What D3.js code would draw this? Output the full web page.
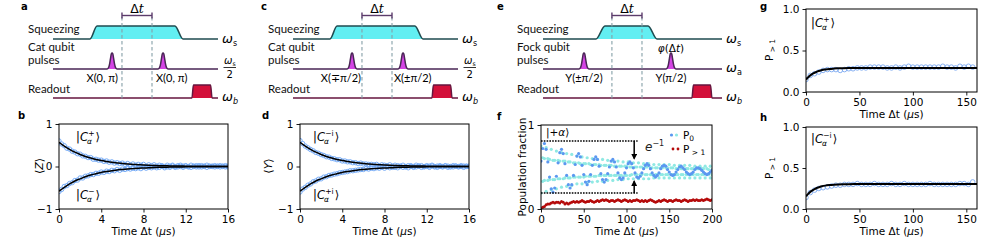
<!DOCTYPE html>
<html>
<head>
<meta charset="utf-8">
<script src="https://cdn.jsdelivr.net/npm/d3@7"></script>
<style>
  body { margin: 0; background: #fff; }
  svg text { font-family: "DejaVu Sans", sans-serif; }
</style>
</head>
<body>
<svg id="fig" width="997" height="245"></svg>
<script>
// ---- data ----
// panel b / d : parity decay, sampled every 0.25 us
const tZ = d3.range(0, 16.001, 0.25);
const zPlus = [.60,.53,.49,.43,.41,.36,.34,.30,.29,.25,.24,.21,
  .21,.17,.17,.15,.15,.12,.13,.10,.11,.08,.09,.07,
  .08,.05,.07,.04,.06,.03,.05,.03,.05,.01,.04,.02,
  .04,.01,.03,.02,.00,.03,.01,.03,.00,.02,.03,.01,
  .02,.00,.03,.01,.02,-.01,.02,.01,.03,.00,.01,.02,
  .00,.02,.01,-.01,.01];
const zMinus = [-.59,-.54,-.47,-.45,-.40,-.38,-.33,-.32,-.27,-.27,-.23,-.22,
  -.19,-.19,-.16,-.16,-.13,-.14,-.11,-.12,-.09,-.10,-.07,-.09,
  -.06,-.07,-.05,-.06,-.04,-.05,-.03,-.05,-.02,-.04,-.02,-.03,
  -.01,-.03,-.02,.00,-.03,-.01,-.02,.01,-.02,-.01,.00,-.02,
  .01,-.01,-.02,.00,-.01,.02,-.01,.00,-.02,.01,.00,-.01,
  .01,-.01,.00,.02,-.01];
const yMinusI = [.61,.54,.48,.44,.40,.37,.33,.31,.28,.26,.23,.22,
  .19,.18,.16,.16,.13,.13,.11,.11,.09,.09,.07,.08,
  .06,.06,.05,.05,.04,.05,.02,.04,.03,.02,.04,.01,
  .03,.02,.01,.03,.00,.02,.02,.00,.03,.01,.02,.00,
  .02,.01,.03,.00,.01,.02,.00,.02,.01,-.01,.02,.01,
  .00,.02,.01,.00,.01];
const yPlusI = [-.60,-.53,-.49,-.44,-.41,-.36,-.34,-.30,-.29,-.25,-.24,-.21,
  -.20,-.18,-.17,-.15,-.14,-.13,-.12,-.10,-.10,-.09,-.08,-.07,
  -.07,-.05,-.06,-.04,-.05,-.03,-.04,-.02,-.04,-.01,-.03,-.02,
  -.02,-.03,.00,-.02,-.01,-.03,.00,-.02,-.01,.01,-.02,-.01,
  .00,-.02,.01,-.01,-.02,.00,-.01,.01,-.02,.00,-.01,.01,
  -.01,.00,-.02,.01,.00];
// fitted curves, every 0.5 us
const tFit = d3.range(0, 16.001, 0.5);
const fitUp = [.570,.480,.402,.337,.283,.237,.199,.167,.140,.118,.098,.083,.069,.058,.049,.041,
  .034,.029,.024,.020,.017,.014,.012,.010,.008,.007,.006,.005,.004,.003,.003,.002,.002];
const fitDown = [-.580,-.490,-.410,-.340,-.290,-.240,-.200,-.170,-.140,-.120,-.100,-.080,-.070,-.060,-.050,-.040,
  -.035,-.030,-.025,-.020,-.017,-.014,-.012,-.010,-.008,-.007,-.006,-.005,-.004,-.003,-.003,-.002,-.002];

// panel f : populations, every 2 us
const tPop = d3.range(0, 200.001, 2);
const p0Light = [.75,.61,.34,.21,.34,.59,.71,.58,.35,.24,
  .36,.57,.67,.57,.37,.27,.37,.56,.65,.55,
  .38,.30,.38,.54,.62,.54,.39,.31,.39,.53,
  .60,.53,.39,.33,.40,.52,.59,.52,.40,.34,
  .40,.52,.57,.51,.40,.35,.40,.51,.56,.51,
  .40,.36,.40,.50,.55,.50,.41,.36,.41,.50,
  .54,.50,.41,.36,.41,.49,.53,.49,.41,.37,
  .41,.49,.53,.49,.41,.37,.41,.49,.52,.48,
  .41,.37,.41,.48,.52,.48,.41,.37,.41,.48,
  .51,.48,.41,.37,.41,.48,.51,.48,.41,.37,.41];
const p0LightB = [.19,.33,.60,.73,.60,.35,.23,.35,.58,.69,
  .58,.36,.26,.36,.57,.66,.56,.37,.28,.38,
  .55,.63,.55,.38,.30,.38,.54,.61,.54,.39,
  .32,.39,.53,.59,.53,.40,.33,.40,.52,.58,
  .52,.40,.34,.40,.51,.57,.51,.40,.35,.40,
  .51,.56,.50,.41,.36,.41,.50,.55,.50,.41,
  .36,.41,.50,.54,.49,.41,.37,.41,.49,.53,
  .49,.41,.37,.41,.49,.53,.49,.41,.37,.41,
  .48,.52,.48,.41,.37,.41,.48,.52,.48,.41,
  .37,.41,.48,.51,.48,.41,.37,.41,.47,.51,.47];
const p0Dark = [.57,.72,.78,.71,.56,.38,.24,.20,.25,.39,
  .55,.67,.71,.66,.54,.40,.29,.25,.29,.40,
  .53,.63,.66,.62,.52,.41,.32,.29,.33,.41,
  .52,.59,.62,.59,.51,.42,.35,.32,.35,.42,
  .50,.57,.59,.56,.50,.43,.37,.35,.37,.43,
  .49,.54,.56,.54,.49,.43,.38,.37,.39,.43,
  .48,.52,.54,.52,.48,.43,.40,.38,.40,.43,
  .48,.51,.52,.51,.47,.44,.41,.40,.41,.44,
  .47,.50,.51,.49,.47,.44,.42,.41,.42,.44,
  .47,.49,.49,.48,.46,.44,.42,.41,.42,.44,.46];
const pLeak = [.00,.02,.03,.05,.06,.06,.07,.08,.07,.08,
  .08,.07,.09,.08,.06,.07,.06,.07,.08,.09,
  .08,.09,.08,.09,.10,.09,.08,.09,.09,.10,
  .09,.08,.09,.10,.09,.10,.11,.10,.11,.10,
  .09,.10,.10,.09,.10,.11,.10,.09,.10,.11,
  .10,.09,.10,.09,.10,.10,.11,.10,.09,.10,
  .09,.10,.09,.10,.11,.10,.09,.08,.09,.10,
  .09,.10,.11,.10,.09,.10,.10,.09,.10,.11,
  .10,.10,.09,.10,.11,.10,.09,.10,.10,.11,
  .10,.11,.10,.10,.11,.10,.11,.12,.11,.10,.11];
const contrastLevels = [0.81, 0.19];

// panels g / h : leakage, every 4 us
const tLeak = d3.range(0, 157, 4);
const leakPlus = [.15,.20,.22,.24,.26,.27,.27,.27,.26,.27,
  .28,.28,.29,.29,.29,.30,.30,.30,.30,.29,
  .29,.30,.29,.30,.31,.30,.30,.30,.30,.30,
  .30,.30,.31,.30,.30,.29,.31,.30,.31,.30];
const leakMinusI = [.14,.20,.23,.25,.26,.27,.28,.29,.29,.30,
  .30,.30,.31,.30,.30,.30,.31,.30,.30,.30,
  .31,.30,.30,.31,.30,.30,.30,.30,.30,.31,
  .30,.30,.30,.30,.30,.30,.31,.31,.30,.33];
const tLeakFit = [0,2,4,6,8,10,12,15,18,22,26,30,35,40,50,60,80,100,120,140,160];
const leakFitPlus = [.150,.178,.200,.218,.232,.244,.253,.264,.271,.278,.282,.285,.287,.288,.289,.29,.29,.29,.29,.29,.29];
const leakFitMinusI = [.155,.185,.209,.228,.243,.256,.265,.277,.285,.292,.297,.300,.302,.303,.304,.305,.305,.305,.305,.305,.305];

// pulse sequences (schematic units 0..100 along each time line)
const squeezeA = [22.4, 26.7, 73.9, 78.8], pulsesA = [35.8, 66.7], readoutA = [84.2, 96.4], marksA = [41.8, 60];
const squeezeE = [29.6, 34.6, 58.7, 63.7], pulsesE = [22.9, 71.5], readoutE = [83.2, 94.4], marksE = [38.5, 55.3];
const pulseShapeOff = [-5, -3.5, -2.5, -1.5, -0.7, 0, 0.7, 1.5, 2.5, 3.5, 5];
const pulseShapeAmp = [0, 0.08, 0.3, 0.68, 0.95, 1, 0.95, 0.68, 0.3, 0.08, 0];

const svg = d3.select("#fig");
const SQ_Y = 39, SQ_TOP = 26, QB_Y = 69, QB_H = 16, RO_Y = 98, RO_TOP = 85;

function omega(g, x, y, sub, size, subItalic) {
  const t = g.append("text").attr("x", x).attr("y", y)
    .attr("font-family", "DejaVu Serif").attr("font-size", size);
  t.append("tspan").attr("font-style", "italic").text("ω");
  t.append("tspan").attr("font-size", size * 0.62).attr("dy", size * 0.22)
    .attr("font-style", subItalic ? "italic" : "normal").text(sub);
  return t;
}

function drawSeq(p) {
  const x = d3.scaleLinear().domain([0, 100]).range(p.range);
  const g = svg.append("g");
  const curve = d3.line().curve(d3.curveMonotoneX);

  g.append("text").attr("x", p.letterX).attr("y", 10).attr("font-weight", "bold").attr("font-size", 10).text(p.letter);

  const lab = g.append("g").attr("font-size", 11.5).attr("fill", "#111");
  lab.append("text").attr("x", p.textX).attr("y", 32.5).style("font-family", "Lato").text("Squeezing");
  lab.append("text").attr("x", p.textX).attr("y", 51).style("font-family", "Lato").text(p.qubitName);
  lab.append("text").attr("x", p.textX).attr("y", 64).style("font-family", "Lato").text("pulses");
  lab.append("text").attr("x", p.textX).attr("y", 93).style("font-family", "Lato").text("Readout");

  // squeezing drive
  const s = p.squeeze;
  g.append("path")
    .attr("d", curve([[x(0), SQ_Y], [x(s[0]), SQ_Y], [x(s[1]), SQ_TOP], [x(s[2]), SQ_TOP], [x(s[3]), SQ_Y], [x(100), SQ_Y]]))
    .attr("fill", "#62eef2").attr("stroke", "#1f4b50").attr("stroke-width", 1.6);

  // qubit pulses
  let pts = [[x(0), QB_Y]];
  p.pulses.forEach(c => pulseShapeOff.forEach((o, i) => pts.push([x(c) + o, QB_Y - QB_H * pulseShapeAmp[i]])));
  pts.push([x(100), QB_Y]);
  g.append("path").attr("d", curve(pts))
    .attr("fill", "#d444e4").attr("stroke", "#4a2656").attr("stroke-width", 1.5);

  // readout
  const r = p.readout;
  g.append("path")
    .attr("d", curve([[x(0), RO_Y], [x(r[0]), RO_Y], [x(r[0]) + 1.5, RO_TOP], [x(r[1]) - 1.5, RO_TOP], [x(r[1]), RO_Y], [x(100), RO_Y]]))
    .attr("fill", "#d3103a").attr("stroke", "#66163f").attr("stroke-width", 1.5);

  // delay markers
  g.selectAll("line.mark").data(p.marks).join("line").attr("class", "mark")
    .attr("x1", d => x(d)).attr("x2", d => x(d)).attr("y1", 17).attr("y2", 101)
    .attr("stroke", "#86a0a8").attr("stroke-width", 1.1).attr("stroke-dasharray", "3.5,2.5");
  const m0 = x(p.marks[0]), m1 = x(p.marks[1]);
  const br = g.append("g").attr("stroke", "#5b3b6b").attr("stroke-width", 1.4);
  br.append("line").attr("x1", m0).attr("x2", m1).attr("y1", 15.5).attr("y2", 15.5);
  br.append("line").attr("x1", m0).attr("x2", m0).attr("y1", 12.5).attr("y2", 18.5);
  br.append("line").attr("x1", m1).attr("x2", m1).attr("y1", 12.5).attr("y2", 18.5);
  const dt = g.append("text").attr("x", (m0 + m1) / 2).attr("y", 12.5).attr("text-anchor", "middle").attr("font-size", 12.5);
  dt.append("tspan").text("Δ");
  dt.append("tspan").attr("font-family", "DejaVu Serif").attr("font-style", "italic").text("t");

  // pulse labels
  p.pulseLabels.forEach((t, i) => {
    g.append("text").attr("x", x(p.pulseLabelPos[i])).attr("y", 81.5)
      .attr("text-anchor", p.pulseLabelAnchor[i]).style("font-family", "Lato").attr("font-size", 11).text(t);
  });

  // frequency labels
  const ox = x(100) + 4;
  omega(g, ox, 43, "s", 13, false);
  if (p.fraction) {
    omega(g, ox + 2, 64, "s", 10, false);
    g.append("line").attr("x1", ox + 1.5).attr("x2", ox + 14).attr("y1", 67.5).attr("y2", 67.5).attr("stroke", "#000").attr("stroke-width", 0.8);
    g.append("text").attr("x", ox + 7.8).attr("y", 77.5).attr("text-anchor", "middle").attr("font-family", "DejaVu Serif").attr("font-size", 10).text("2");
  } else {
    omega(g, ox, 72, "a", 13, false);
  }
  omega(g, ox, 101, "b", 13, true);
  return { g, x };
}

drawSeq({ range: [53, 218], letter: "a", letterX: 21, textX: 28, qubitName: "Cat qubit",
  squeeze: squeezeA, pulses: pulsesA, readout: readoutA, marks: marksA,
  pulseLabels: ["X(0, π)", "X(0, π)"], pulseLabelPos: [39.4, 62.4], pulseLabelAnchor: ["end", "start"], fraction: true });
drawSeq({ range: [293, 458], letter: "c", letterX: 261, textX: 268, qubitName: "Cat qubit",
  squeeze: squeezeA, pulses: pulsesA, readout: readoutA, marks: marksA,
  pulseLabels: ["X(∓π/2)", "X(±π/2)"], pulseLabelPos: [41.2, 61.2], pulseLabelAnchor: ["end", "start"], fraction: true });
const seqE = drawSeq({ range: [543, 722], letter: "e", letterX: 497, textX: 517, qubitName: "Fock qubit",
  squeeze: squeezeE, pulses: pulsesE, readout: readoutE, marks: marksE,
  pulseLabels: ["Y(±π/2)", "Y(π/2)"], pulseLabelPos: [22.9, 71.5], pulseLabelAnchor: ["middle", "middle"], fraction: false });
{
  const t = seqE.g.append("text").attr("x", seqE.x(pulsesE[1])).attr("y", 52).attr("text-anchor", "middle").attr("font-size", 10.5).attr("font-family", "DejaVu Serif");
  t.append("tspan").attr("font-style", "italic").text("φ");
  t.append("tspan").text("(Δ");
  t.append("tspan").attr("font-style", "italic").text("t");
  t.append("tspan").text(")");
}

// ---- data panels ----
let clipId = 0;
function panel(o) {
  const x = d3.scaleLinear().domain(o.xd).range([o.l, o.r]);
  const y = d3.scaleLinear().domain(o.yd).range([o.b, o.t]);
  const g = svg.append("g");
  const id = "clip" + (clipId++);
  svg.append("clipPath").attr("id", id).append("rect")
    .attr("x", o.l).attr("y", o.t).attr("width", o.r - o.l).attr("height", o.b - o.t);
  const ax = g.append("g").attr("transform", `translate(0,${o.b})`)
    .call(d3.axisBottom(x).tickValues(o.xt).tickSize(3.5).tickSizeOuter(0).tickFormat(d3.format("d")));
  const ay = g.append("g").attr("transform", `translate(${o.l},0)`)
    .call(d3.axisLeft(y).tickValues(o.yt).tickSize(3.5).tickSizeOuter(0).tickFormat(o.yf));
  [ax, ay].forEach(a => {
    a.select(".domain").remove();
    a.selectAll("text").attr("font-size", 10.5).attr("fill", "#000").style("font-family", "DejaVu Sans");
    a.selectAll("line").attr("stroke-width", 0.9);
  });
  const plot = g.append("g").attr("clip-path", `url(#${id})`);
  g.append("rect").attr("x", o.l).attr("y", o.t).attr("width", o.r - o.l).attr("height", o.b - o.t)
    .attr("fill", "none").attr("stroke", "#000").attr("stroke-width", 1);
  g.append("text").attr("x", o.letterX).attr("y", o.letterY).attr("font-weight", "bold").attr("font-size", 10).text(o.letter);
  const xl = g.append("text").attr("x", (o.l + o.r) / 2).attr("y", o.b + 26).attr("text-anchor", "middle").attr("font-size", 10.5);
  xl.append("tspan").text("Time Δt (");
  xl.append("tspan").attr("font-style", "italic").text("μ");
  xl.append("tspan").text("s)");
  return { x, y, g, plot };
}

function circles(p, xs, ys, r, color) {
  p.plot.append("g").selectAll("circle").data(ys).join("circle")
    .attr("cx", (d, i) => p.x(xs[i])).attr("cy", d => p.y(d)).attr("r", r)
    .attr("fill", "none").attr("stroke", color).attr("stroke-width", 0.9);
}
function dots(p, xs, ys, r, color) {
  p.plot.append("g").selectAll("circle").data(ys).join("circle")
    .attr("cx", (d, i) => p.x(xs[i])).attr("cy", d => p.y(d)).attr("r", r).attr("fill", color);
}
function fitLine(p, xs, ys, w) {
  p.plot.append("path").datum(ys)
    .attr("d", d3.line().x((d, i) => p.x(xs[i])).y(d => p.y(d)).curve(d3.curveMonotoneX))
    .attr("fill", "none").attr("stroke", "#000").attr("stroke-width", w);
}
function ket(g, x, y, sup, sub, size) {
  const base = g.append("text").attr("x", x).attr("y", y).attr("font-family", "DejaVu Serif").attr("font-size", size);
  base.append("tspan").text("|");
  base.append("tspan").attr("font-style", "italic").text("C");
  const w = base.node().getComputedTextLength();
  const s1 = g.append("text").attr("x", x + w + 0.3).attr("y", y - size * 0.42)
    .attr("font-family", "DejaVu Serif").attr("font-size", size * 0.66).text(sup);
  const s2 = g.append("text").attr("x", x + w - 1).attr("y", y + size * 0.3)
    .attr("font-family", "DejaVu Serif").attr("font-style", "italic").attr("font-size", size * 0.66).text(sub);
  const w2 = Math.max(s1.node().getComputedTextLength() + 0.3, s2.node().getComputedTextLength() - 1);
  g.append("text").attr("x", x + w + w2 + 1).attr("y", y).attr("font-family", "DejaVu Serif").attr("font-size", size).text("⟩");
}
function yLabel(g, x, y, build, size) {
  const t = g.append("text").attr("transform", `translate(${x},${y}) rotate(-90)`)
    .attr("text-anchor", "middle").attr("font-size", size);
  build(t);
}

const blueOpen = "#6da6f6";

// b
const pb = panel({ xd: [0, 16], yd: [-1, 1], l: 59, r: 228, t: 124, b: 209, xt: [0, 4, 8, 12, 16], yt: [-1, 0, 1],
  yf: d3.format("d"), letter: "b", letterX: 18, letterY: 119 });
circles(pb, tZ, zPlus, 2.2, blueOpen);
circles(pb, tZ, zMinus, 2.2, blueOpen);
fitLine(pb, tFit, fitUp, 1.5);
fitLine(pb, tFit, fitDown, 1.5);
ket(pb.g, 76, 141, "+", "α", 11.5);
ket(pb.g, 76, 199, "−", "α", 11.5);
yLabel(pb.g, 43, 166, t => {
  t.attr("font-family", "DejaVu Serif");
  t.append("tspan").text("⟨");
  t.append("tspan").attr("font-style", "italic").text("Z");
  t.append("tspan").text("⟩");
}, 11);

// d
const pd = panel({ xd: [0, 16], yd: [-1, 1], l: 300, r: 469, t: 124, b: 209, xt: [0, 4, 8, 12, 16], yt: [-1, 0, 1],
  yf: d3.format("d"), letter: "d", letterX: 262, letterY: 119 });
circles(pd, tZ, yMinusI, 2.2, blueOpen);
circles(pd, tZ, yPlusI, 2.2, blueOpen);
fitLine(pd, tFit, fitUp, 1.5);
fitLine(pd, tFit, fitDown, 1.5);
ket(pd.g, 313, 141, "−i", "α", 11.5);
ket(pd.g, 313, 199, "+i", "α", 11.5);
yLabel(pd.g, 272, 166, t => {
  t.attr("font-family", "DejaVu Serif");
  t.append("tspan").text("⟨");
  t.append("tspan").attr("font-style", "italic").text("Y");
  t.append("tspan").text("⟩");
}, 11);

// f
const pf = panel({ xd: [0, 200], yd: [0, 1], l: 541, r: 712, t: 125, b: 209, xt: [0, 50, 100, 150, 200], yt: [0, 1],
  yf: d3.format("d"), letter: "f", letterX: 497, letterY: 120 });
const cyanCol = "#8fe9e3", blueCol = "#5b98f0", redCol = "#b50a0a";
dots(pf, tPop, p0Light, 1.6, cyanCol);
dots(pf, tPop, p0LightB, 1.6, cyanCol);
dots(pf, tPop, p0Dark, 1.6, blueCol);
dots(pf, tPop, pLeak, 1.5, redCol);
contrastLevels.forEach(v => {
  pf.g.append("line").attr("x1", pf.x(0)).attr("x2", pf.x(113)).attr("y1", pf.y(v)).attr("y2", pf.y(v))
    .attr("stroke", "#000").attr("stroke-width", 1.6).attr("stroke-dasharray", "1.6,1.2");
});
svg.append("defs").append("marker").attr("id", "ah").attr("viewBox", "0 0 10 10").attr("refX", 8).attr("refY", 5)
  .attr("markerWidth", 4).attr("markerHeight", 4).attr("orient", "auto-start-reverse")
  .append("path").attr("d", "M0,0 L10,5 L0,10 z").attr("fill", "#000");
[[0.81, 0.6], [0.19, 0.33]].forEach(([a, b]) => {
  pf.g.append("line").attr("x1", pf.x(109)).attr("x2", pf.x(109)).attr("y1", pf.y(a)).attr("y2", pf.y(b))
    .attr("stroke", "#000").attr("stroke-width", 1.5).attr("marker-end", "url(#ah)");
});
{
  const t = pf.g.append("text").attr("x", 645).attr("y", 151).attr("font-family", "DejaVu Serif").attr("font-size", 12).attr("fill", "#222");
  t.append("tspan").attr("font-style", "italic").text("e");
  t.append("tspan").attr("font-size", 8).attr("dy", -5).text("−1");
  const k = pf.g.append("text").attr("x", 546).attr("y", 136).attr("font-family", "DejaVu Serif").attr("font-size", 10.5);
  k.text("|+");
  k.append("tspan").attr("font-style", "italic").text("α");
  k.append("tspan").text("⟩");
  // legend
  pf.g.append("circle").attr("cx", 671.5).attr("cy", 135).attr("r", 1.6).attr("fill", blueCol);
  pf.g.append("circle").attr("cx", 676.5).attr("cy", 135).attr("r", 1.6).attr("fill", cyanCol);
  pf.g.append("circle").attr("cx", 673).attr("cy", 149).attr("r", 1.4).attr("fill", redCol);
  pf.g.append("circle").attr("cx", 678).attr("cy", 149).attr("r", 1.4).attr("fill", redCol);
  const l1 = pf.g.append("text").attr("x", 683).attr("y", 138.5).attr("font-size", 10.5);
  l1.text("P");
  l1.append("tspan").attr("font-size", 7.5).attr("dy", 2).text("0");
  const l2 = pf.g.append("text").attr("x", 683).attr("y", 152.5).attr("font-size", 10.5);
  l2.text("P");
  l2.append("tspan").attr("font-size", 7.5).attr("dy", 2).text(" > 1");
}
yLabel(pf.g, 526, 167, t => t.text("Population fraction"), 10.5);

// g
const pg = panel({ xd: [0, 160], yd: [0, 1], l: 806, r: 977, t: 9, b: 92, xt: [0, 50, 100, 150], yt: [0, 0.5, 1],
  yf: d3.format(".1f"), letter: "g", letterX: 760, letterY: 10 });
circles(pg, tLeak, leakPlus, 2.3, "#7aa8f0");
fitLine(pg, tLeakFit, leakFitPlus, 2);
ket(pg.g, 811, 27, "+", "α", 11.5);
yLabel(pg.g, 773, 50, t => {
  t.text("P");
  t.append("tspan").attr("font-size", 7.5).attr("dy", 2).text(" > 1");
}, 10.5);

// h
const ph = panel({ xd: [0, 160], yd: [0, 1], l: 806, r: 977, t: 127, b: 209, xt: [0, 50, 100, 150], yt: [0, 0.5, 1],
  yf: d3.format(".1f"), letter: "h", letterX: 760, letterY: 121 });
circles(ph, tLeak, leakMinusI, 2.3, "#7aa8f0");
fitLine(ph, tLeakFit, leakFitMinusI, 2);
ket(ph.g, 811, 143, "−i", "α", 11.5);
yLabel(ph.g, 773, 168, t => {
  t.text("P");
  t.append("tspan").attr("font-size", 7.5).attr("dy", 2).text(" > 1");
}, 10.5);
</script>
</body>
</html>
